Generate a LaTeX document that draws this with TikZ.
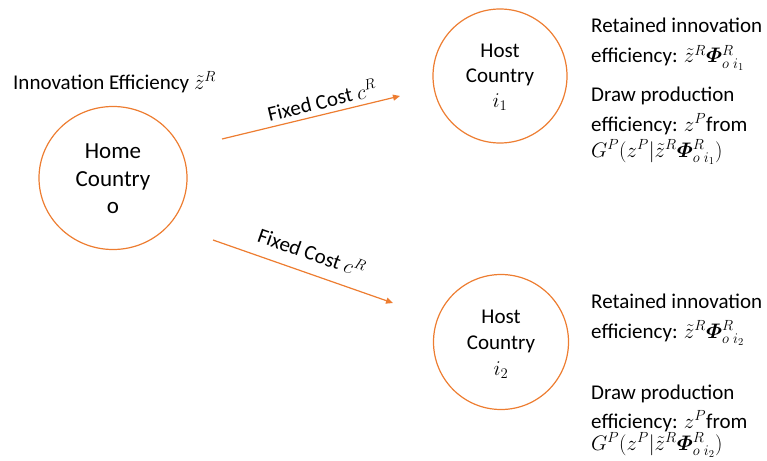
\RequirePackage{fix-cm}
\documentclass[tikz,border=0pt]{standalone}
\usepackage{amsmath}
\usepackage{bm}
\usepackage{fontspec}
\setmainfont{Carlito}
\usetikzlibrary{arrows.meta,shapes.geometric}
\definecolor{accent}{HTML}{ED7D31}
\tikzset{
  country/.style={draw=accent, line width=1.2pt},
  ctext/.style={align=center, font=\fontsize{21}{26}\selectfont},
  conn/.style={draw=accent, line width=1.2pt, -{Triangle[length=7pt,width=6pt]}},
  txt/.style={anchor=base west, inner sep=0pt, font=\fontsize{21}{24}\selectfont},
  lbl/.style={sloped, font=\fontsize{21}{24}\selectfont, inner sep=0pt}
}
\begin{document}
\begin{tikzpicture}[x=1pt,y=-1pt]
\useasboundingbox (0,0) rectangle (767,460);
\node[country, ellipse, minimum width=148pt, minimum height=143pt, inner sep=0pt] (home) at (113,178) {};
\node[ctext, font=\fontsize{23}{27.5}\selectfont] (hometxt) at (113,179) {Home\\Country\\o};
\node[country, circle, minimum size=134pt, inner sep=0pt] (host1) at (500,76) {};
\node[ctext, font=\fontsize{21}{25}\selectfont] (host1txt) at (500,77) {Host\\Country\\$i_1$};
\node[country, circle, minimum size=135pt, inner sep=0pt] (host2) at (501,342) {};
\node[ctext] (host2txt) at (501,344) {Host\\Country\\$i_2$};
\node[txt] (innov) at (13,89) {Innovation Efficiency $\tilde z^R$};
\coordinate (a1s) at (222,139);
\coordinate (a1e) at (400,96);
\coordinate (a2s) at (213,240);
\coordinate (a2e) at (393,303);
\draw[conn] (a1s) -- node[lbl, above=5pt, pos=0.58] (fc1) {Fixed Cost $c^R$} (a1e);
\draw[conn] (a2s) -- node[lbl, above=12pt, pos=0.51] (fc2) {Fixed Cost $c^R$} (a2e);
\node[txt] (r1a) at (591,33) {Retained innovation};
\node[txt] (r1b) at (591,63) {efficiency: $\tilde z^R\bm{\varPhi}^R_{o\;i_1}$};
\node[txt] (d1a) at (591,101) {Draw production};
\node[txt] (d1b) at (591,131) {efficiency: $z^P$from};
\node[txt] (d1c) at (591,157) {$G^P(z^P|\tilde z^R\bm{\varPhi}^R_{o\;i_1})$};
\node[txt] (r2a) at (591,308) {Retained innovation};
\node[txt] (r2b) at (591,338) {efficiency: $\tilde z^R\bm{\varPhi}^R_{o\;i_2}$};
\node[txt] (d2a) at (591,399) {Draw production};
\node[txt] (d2b) at (591,428) {efficiency: $z^P$from};
\node[txt] (d2c) at (591,450) {$G^P(z^P|\tilde z^R\bm{\varPhi}^R_{o\;i_2})$};
\end{tikzpicture}
\end{document}
